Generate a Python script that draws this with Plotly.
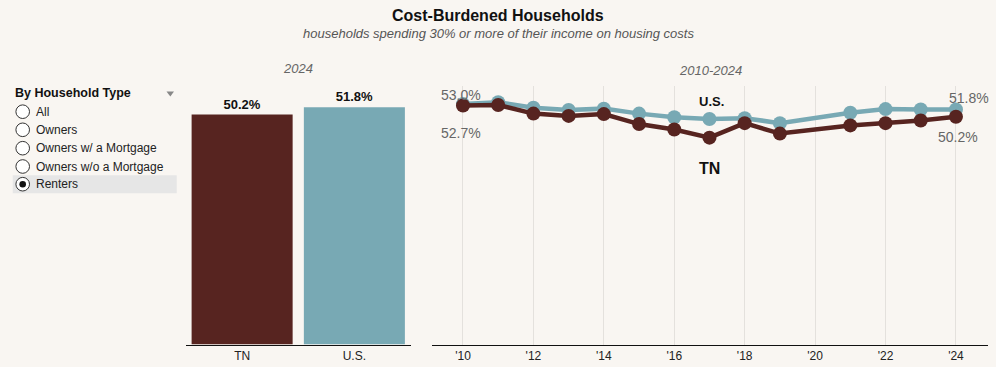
import plotly.graph_objects as go

# ---------------- data ----------------
years = [2010, 2011, 2012, 2013, 2014, 2015, 2016, 2017, 2018, 2019, 2021, 2022, 2023, 2024]
us_vals = [53.0, 53.4, 52.2, 51.7, 52.0, 50.9, 50.1, 49.7, 49.9, 48.8, 51.1, 51.9, 51.8, 51.8]
tn_vals = [52.7, 52.8, 50.9, 50.4, 50.8, 48.6, 47.4, 45.6, 48.8, 46.5, 48.3, 48.8, 49.4, 50.2]

bar_cats = ["TN", "U.S."]
bar_vals = [50.2, 51.8]

tick_years = [2010, 2012, 2014, 2016, 2018, 2020, 2022, 2024]
tick_text = ["'10", "'12", "'14", "'16", "'18", "'20", "'22", "'24"]

options = ["All", "Owners", "Owners w/ a Mortgage", "Owners w/o a Mortgage", "Renters"]
selected = "Renters"

title = "Cost-Burdened Households"
subtitle = "households spending 30% or more of their income on housing costs"

# ---------------- style ----------------
W, H = 996, 367
BG = "#f9f6f2"
TN_C = "#572420"
US_C = "#78a9b4"
FONT = "Liberation Sans, Arial, sans-serif"


def px(x):
    return x / W


def py(y):
    return 1 - y / H


YR = [0, 56.55]
YR2 = [0, 57.1]

fig = go.Figure()

fig.add_trace(go.Bar(
    x=bar_cats, y=bar_vals,
    marker=dict(color=[TN_C, US_C], line=dict(width=0)),
    width=0.9,
    text=[f"<b>{v:.1f}%</b>" for v in bar_vals],
    textposition="outside",
    textfont=dict(size=13, color="#111", family=FONT),
    cliponaxis=False,
    xaxis="x", yaxis="y",
    hoverinfo="skip",
    showlegend=False,
))

fig.add_trace(go.Scatter(
    x=years, y=us_vals, mode="lines+markers",
    line=dict(color=US_C, width=4.5),
    marker=dict(color=US_C, size=14),
    xaxis="x2", yaxis="y2", showlegend=False, cliponaxis=False,
))
fig.add_trace(go.Scatter(
    x=years, y=tn_vals, mode="lines+markers",
    line=dict(color=TN_C, width=4.5),
    marker=dict(color=TN_C, size=14),
    xaxis="x2", yaxis="y2", showlegend=False, cliponaxis=False,
))

ann = []
# titles
ann.append(dict(x=px(498), y=py(16), xref="paper", yref="paper", text=f"<b>{title}</b>",
                showarrow=False, font=dict(size=16, color="#111", family=FONT), xanchor="center", yanchor="middle"))
ann.append(dict(x=px(498), y=py(33), xref="paper", yref="paper", text=f"<i>{subtitle}</i>",
                showarrow=False, font=dict(size=13, color="#555", family=FONT), xanchor="center", yanchor="middle"))
ann.append(dict(x=px(298), y=py(68.5), xref="paper", yref="paper", text="<i>2024</i>",
                showarrow=False, font=dict(size=13, color="#666", family=FONT), xanchor="center", yanchor="middle"))
ann.append(dict(x=px(710), y=py(70), xref="paper", yref="paper", text="<i>2010-2024</i>",
                showarrow=False, font=dict(size=13, color="#666", family=FONT), xanchor="center", yanchor="middle"))

# line labels
lab_font = dict(size=14, color="#666", family=FONT)
ann.append(dict(x=years[0], y=us_vals[0], xref="x2", yref="y2", text=f"{us_vals[0]:.1f}%",
                showarrow=False, font=lab_font, xanchor="center", yanchor="middle", xshift=-2, yshift=9))
ann.append(dict(x=years[0], y=tn_vals[0], xref="x2", yref="y2", text=f"{tn_vals[0]:.1f}%",
                showarrow=False, font=lab_font, xanchor="center", yanchor="middle", xshift=-2, yshift=-28))
ann.append(dict(x=years[-1], y=us_vals[-1], xref="x2", yref="y2", text=f"{us_vals[-1]:.1f}%",
                showarrow=False, font=lab_font, xanchor="center", yanchor="middle", xshift=13, yshift=12))
ann.append(dict(x=years[-1], y=tn_vals[-1], xref="x2", yref="y2", text=f"{tn_vals[-1]:.1f}%",
                showarrow=False, font=lab_font, xanchor="center", yanchor="middle", xshift=2, yshift=-20))
ann.append(dict(x=px(711), y=py(101.5), xref="paper", yref="paper", text="<b>U.S.</b>",
                showarrow=False, font=dict(size=13, color="#111", family=FONT), xanchor="center", yanchor="middle"))
ann.append(dict(x=px(709), y=py(168), xref="paper", yref="paper", text="<b>TN</b>",
                showarrow=False, font=dict(size=16, color="#111", family=FONT), xanchor="center", yanchor="middle"))

# left panel
ann.append(dict(x=px(12.5), y=py(92.7), xref="paper", yref="paper", text="<b>By Household Type</b>",
                showarrow=False, font=dict(size=12.5, color="#111", family=FONT), xanchor="left", yanchor="middle"))

shapes = []
shapes.append(dict(type="path", xref="paper", yref="paper",
                   path=f"M {px(166.5)},{py(91.5)} L {px(174)},{py(91.5)} L {px(170.3)},{py(96.5)} Z",
                   fillcolor="#888", line=dict(width=0)))

row_y = [111.7, 129.8, 148.2, 166.5, 184.2]
for name, yy in zip(options, row_y):
    if name == selected:
        shapes.append(dict(type="rect", xref="paper", yref="paper", layer="below",
                           x0=px(12.7), x1=px(176.7), y0=py(yy - 9), y1=py(yy + 9),
                           fillcolor="#e6e6e6", line=dict(width=0)))
    shapes.append(dict(type="circle", xref="paper", yref="paper",
                       x0=px(22.7 - 6.8), x1=px(22.7 + 6.8), y0=py(yy + 6.8), y1=py(yy - 6.8),
                       fillcolor="white", line=dict(color="#333", width=1)))
    if name == selected:
        shapes.append(dict(type="circle", xref="paper", yref="paper",
                           x0=px(22.7 - 3.3), x1=px(22.7 + 3.3), y0=py(yy + 3.3), y1=py(yy - 3.3),
                           fillcolor="#111", line=dict(width=0)))
    ann.append(dict(x=px(34), y=py(yy), xref="paper", yref="paper", text=name,
                    showarrow=False, font=dict(size=12, color="#222", family=FONT),
                    xanchor="left", yanchor="middle"))

fig.update_layout(
    width=W, height=H, autosize=False,
    margin=dict(l=0, r=0, t=0, b=0, pad=0),
    paper_bgcolor=BG, plot_bgcolor=BG,
    font=dict(family=FONT, color="#222"),
    bargap=0.1,
    xaxis=dict(domain=[px(186), px(410.5)], type="category", range=[-0.5, 1.5],
               showline=True, linecolor="#111", linewidth=1.2, ticks="", showgrid=False,
               tickfont=dict(size=12, color="#222", family=FONT), anchor="y", fixedrange=True),
    yaxis=dict(domain=[py(344.5), py(85.5)], range=YR, visible=False, anchor="x", fixedrange=True),
    xaxis2=dict(domain=[px(432), px(988)], range=[2009.12, 2024.91],
                tickvals=tick_years, ticktext=tick_text,
                showline=True, linecolor="#111", linewidth=1.2, ticks="",
                showgrid=True, gridcolor="#e4e1dd", gridwidth=1, zeroline=False,
                tickfont=dict(size=12, color="#222", family=FONT), anchor="y2", fixedrange=True),
    yaxis2=dict(domain=[py(344.5), py(85.5)], range=YR2, visible=False, anchor="x2", fixedrange=True),
    annotations=ann,
    shapes=shapes,
)

fig.write_html(
    "out.html",
    config={"displayModeBar": False},
    post_script="document.body.style.margin='0';document.body.style.padding='0';document.body.style.overflow='hidden';",
)
